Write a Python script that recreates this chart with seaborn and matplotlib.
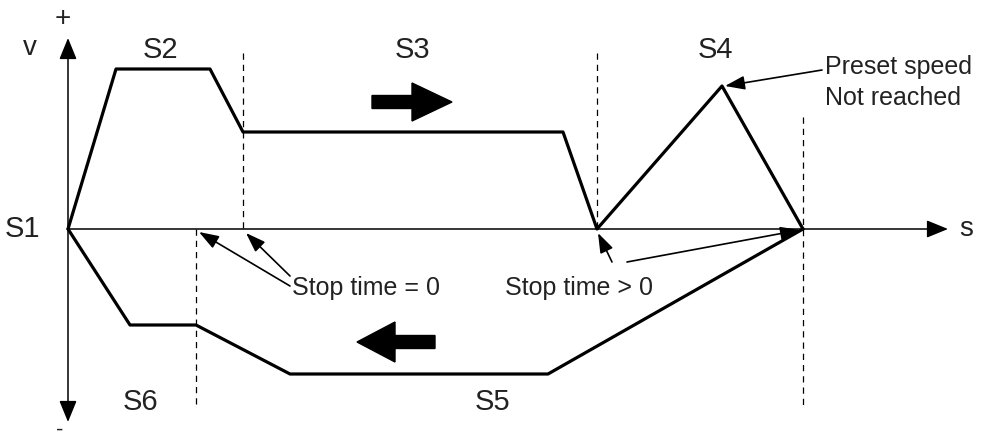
import numpy as np
import pandas as pd
import matplotlib
matplotlib.use("Agg")
import matplotlib.pyplot as plt
import seaborn as sns

# Profile data (s = travel, v = speed), forward move S1..S4 and return move S5..S6
fwd_s = [0, 48, 142, 175, 495, 529, 654, 735]
fwd_v = [0, 160, 160, 97, 97, 0, 143, 0]
back_s = [0, 62, 128, 222, 480, 735]
back_v = [0, -96, -96, -145, -145, 0]

# stop markers (dashed verticals): s position, v from, v to
stop_s = [175, 529, 735, 128]
stop_v0 = [176, 176, 112, 0]
stop_v1 = [0, 0, -178, -178]

# segment labels
seg_names = ["S2", "S3", "S4", "S5", "S6"]
seg_s = [92, 344, 647, 424, 72]
seg_v = [179, 179, 179, -173, -173]

sns.set_theme(style="white")
plt.rcParams['font.family'] = ['Liberation Sans', 'DejaVu Sans']

fig = plt.figure(figsize=(9.84, 4.42), dpi=100)
ax = fig.add_axes([0, 0, 1, 1])
ax.set_xlim(-68, 916)
ax.set_ylim(-213, 229)
ax.axis('off')

df_fwd = pd.DataFrame({'s': fwd_s, 'v': fwd_v})
df_back = pd.DataFrame({'s': back_s, 'v': back_v})
sns.lineplot(data=df_fwd, x='s', y='v', sort=False, estimator=None, color='black', lw=2.3, ax=ax)
sns.lineplot(data=df_back, x='s', y='v', sort=False, estimator=None, color='black', lw=2.3, ax=ax)

# dashed stop lines
for s, a, b in zip(stop_s, stop_v0, stop_v1):
    ax.plot([s, s], [a, b], color='black', lw=0.9, ls=(0, (5, 4)))

# axes arrows
ax_kw = dict(arrowstyle='-|>,head_length=1.1,head_width=0.45', color='black', lw=1.1,
             shrinkA=0, shrinkB=0)
ax.annotate('', xy=(0, 191), xytext=(0, 0), arrowprops=ax_kw)
ax.annotate('', xy=(0, -193), xytext=(0, 0), arrowprops=ax_kw)
ax.annotate('', xy=(880, 0), xytext=(0, 0), arrowprops=ax_kw)

tc = '#222222'
ax.text(-5, 210, '+', fontsize=20, ha='center', va='center', color=tc)
ax.text(-8, -207, '-', fontsize=16, ha='center', va='baseline', color=tc)
ax.text(-38, 181, 'v', fontsize=20, ha='center', va='center', color=tc)
ax.text(-46, 0, 'S1', fontsize=21, ha='center', va='center', color=tc)
ax.text(898, 0, 's', fontsize=20, ha='center', va='center', color=tc)
for name, s, v in zip(seg_names, seg_s, seg_v):
    ax.text(s, v, name, fontsize=21, ha='center', va='center', color=tc)

# direction arrows
ax.arrow(304, 127, 80, 0, width=13, head_width=38, head_length=40,
         length_includes_head=True, color='black')
ax.arrow(367, -113, -78, 0, width=13, head_width=40, head_length=38,
         length_includes_head=True, color='black')

# annotations
ann_kw = dict(arrowstyle='-|>,head_length=1.0,head_width=0.35', color='black', lw=1.2,
              shrinkA=0, shrinkB=0)
ax.text(757, 162, 'Preset speed', fontsize=18, ha='left', va='center', color=tc)
ax.text(757, 131, 'Not reached', fontsize=18, ha='left', va='center', color=tc)
ax.annotate('', xy=(657, 143), xytext=(754, 159), arrowprops=ann_kw)

ax.text(224, -59, 'Stop time = 0', fontsize=18, ha='left', va='center', color=tc)
ax.annotate('', xy=(131, -3), xytext=(222, -57), arrowprops=ann_kw)
ax.annotate('', xy=(178, -4), xytext=(222, -47), arrowprops=ann_kw)

ax.text(437, -59, 'Stop time > 0', fontsize=18, ha='left', va='center', color=tc)
ax.annotate('', xy=(530, -4), xytext=(544, -33), arrowprops=ann_kw)
ax.annotate('', xy=(732, -1), xytext=(559, -33), arrowprops=ann_kw)

fig.savefig('out.png', dpi=100)
